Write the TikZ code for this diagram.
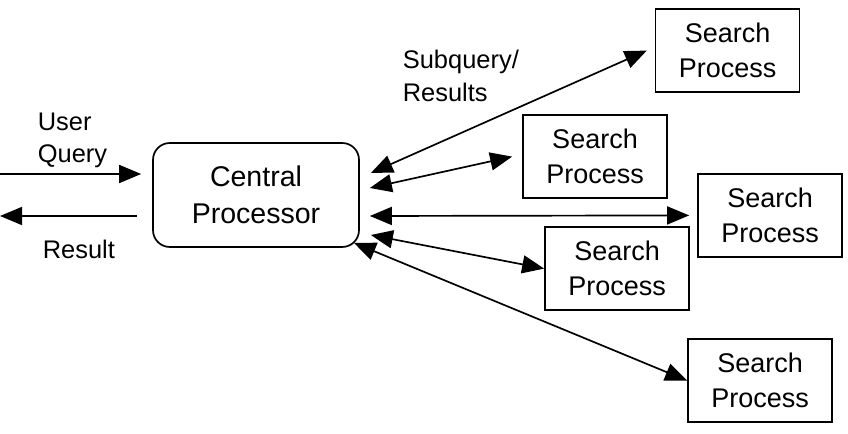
\documentclass[tikz,border=0pt]{standalone}
\usepackage{fontspec}
\setmainfont{Liberation Sans}
\usetikzlibrary{arrows.meta,calc,positioning}
\tikzset{
  hub/.style={draw,rectangle,rounded corners=0.42cm,minimum width=5.15cm,minimum height=2.6cm,align=center,font=\fontsize{20.3}{26}\selectfont},
  proc/.style={draw,rectangle,minimum width=3.6cm,minimum height=2.07cm,align=center,font=\fontsize{19.2}{24.6}\selectfont},
  lbl/.style={align=left,inner sep=0pt,anchor=west,font=\fontsize{18.1}{23}\selectfont}
}

\begin{document}
\begin{tikzpicture}[>={Triangle[length=5.5mm,width=4.5mm]},line width=1.2pt]
  \useasboundingbox (0,0) rectangle (21.2,10.825);
  \node[hub] (cp) at (6.4,5.95) {Central\\Processor};
  \node[proc] (sp1) at (18.19,9.56) {Search\\Process};
  \node[proc] (sp2) at (14.875,6.91) {Search\\Process};
  \node[proc] (sp3) at (19.25,5.44) {Search\\Process};
  \node[proc] (sp4) at (15.425,4.11) {Search\\Process};
  \node[proc] (sp5) at (19.0,1.31) {Search\\Process};

  \coordinate (qin) at (0,6.475);
  \coordinate (qout) at (0,5.425);
  \draw[->,shorten >=2.75mm] (qin) -- (qin -| cp.west);
  \draw[->,shorten <=3.75mm] (qout -| cp.west) -- (qout);

  \draw[<->] ([shift={(0.275,0.55)}]cp.east) -- ([xshift=-2mm]sp1.west);
  \draw[<->] ([shift={(0.25,0.175)}]cp.east) -- ([xshift=-2.5mm]sp2.west);
  \draw[<->] ([shift={(0.25,-0.525)}]cp.east) -- ([xshift=-2mm]sp3.west);
  \draw[<->] ([shift={(0.275,-1.0)}]cp.east) -- (sp4.west);
  \draw[<->] ([shift={(-0.15,0.125)}]cp.south east) -- (sp5.west);

  \node[lbl] (uq) at (0.925,7.31) {User\\Query};
  \node[lbl] (res) at (1.05,4.6) {Result};
  \node[lbl] (subq) at (10.05,8.925) {Subquery/\\Results};
\end{tikzpicture}
\end{document}
